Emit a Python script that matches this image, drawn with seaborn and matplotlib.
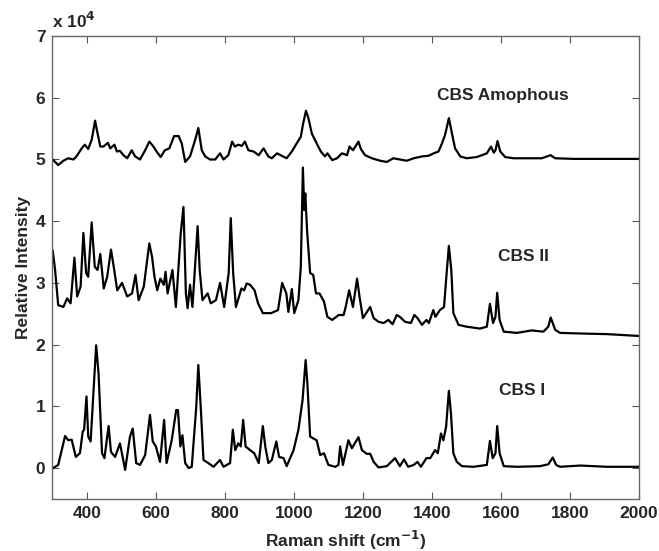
import numpy as np
import pandas as pd
import matplotlib
matplotlib.use("Agg")
import matplotlib.pyplot as plt
import seaborn as sns

# ---- data (Raman shift in cm^-1, intensity in counts) ----
cbs1_x = [301, 317, 337, 346, 356, 368, 380, 388, 392, 399, 404, 411, 427, 434, 444, 451,
          463, 470, 482, 496, 511, 525, 533, 543, 554, 569, 583, 591, 600, 612, 624, 631,
          646, 659, 664, 671, 677, 685, 695, 704, 717, 723, 730, 738, 752, 767, 786, 796,
          815, 823, 830, 839, 846, 853, 860, 873, 885, 898, 910, 917, 926, 936, 949, 957,
          970, 979, 999, 1013, 1025, 1034, 1039, 1047, 1056, 1066, 1076, 1087, 1100, 1120,
          1129, 1134, 1142, 1158, 1168, 1187, 1197, 1211, 1221, 1231, 1245, 1269, 1293,
          1307, 1319, 1331, 1347, 1358, 1368, 1384, 1395, 1409, 1417, 1426, 1433, 1441,
          1449, 1455, 1462, 1472, 1487, 1520, 1559, 1568, 1576, 1584, 1589, 1596, 1608,
          1646, 1713, 1737, 1750, 1760, 1771, 1830, 1907, 1998, 2000]
cbs1_y = [-50, 500, 5200, 4500, 4600, 1800, 2400, 5900, 6200, 11600, 5100, 4300, 19900,
          15300, 2400, 1600, 6800, 2600, 1800, 4000, -300, 5100, 6400, 800, 500, 2100, 8600,
          4300, 3500, 1000, 7800, 800, 4500, 9400, 9400, 3500, 5300, 800, 0, 200, 9900,
          16700, 9900, 1300, 800, 200, 1300, 200, 800, 6200, 2900, 4000, 3500, 7800, 3500,
          2900, 2400, 800, 6800, 3500, 800, 1300, 4300, 1800, 1600, 300, 2900, 6200, 11000,
          17500, 13700, 5100, 4800, 4500, 2100, 2400, 500, 200, 500, 3500, 500, 4500, 3200,
          5000, 2900, 2300, 2300, 1000, 100, 300, 1600, 300, 1400, 200, 500, 1000, 200, 1600,
          1600, 2900, 2400, 5600, 4500, 6700, 12500, 8900, 2400, 1000, 300, 200, 500, 4400,
          1600, 2400, 6800, 2400, 300, 200, 300, 600, 1700, 500, 200, 400, 200, 200, 200]

cbs2_x = [301, 308, 317, 332, 343, 353, 364, 372, 382, 390, 398, 404, 414, 423, 431, 439,
          449, 459, 470, 478, 488, 502, 517, 531, 541, 550, 565, 581, 589, 596, 604, 613,
          623, 628, 634, 648, 658, 672, 680, 687, 692, 699, 706, 713, 721, 727, 735, 750,
          759, 774, 786, 798, 811, 817, 824, 832, 848, 856, 863, 873, 886, 896, 910, 934,
          954, 966, 978, 984, 994, 1001, 1013, 1020, 1026, 1030, 1033, 1038, 1047, 1056,
          1064, 1074, 1087, 1097, 1111, 1130, 1144, 1150, 1160, 1171, 1183, 1190, 1200,
          1221, 1231, 1245, 1260, 1274, 1286, 1298, 1307, 1322, 1339, 1349, 1358, 1371,
          1384, 1391, 1404, 1410, 1423, 1435, 1441, 1449, 1456, 1462, 1477, 1501, 1539,
          1559, 1568, 1577, 1584, 1589, 1596, 1608, 1646, 1689, 1723, 1737, 1744, 1757,
          1771, 1830, 1907, 1998, 2000]
cbs2_y = [35300, 32100, 26400, 26100, 27500, 26700, 34100, 27800, 29400, 38100, 31600,
          31000, 39800, 32600, 32100, 34700, 29100, 31000, 35400, 32600, 28800, 30000,
          27800, 28300, 31300, 27200, 29400, 36400, 34200, 31000, 28800, 30700, 29700,
          31800, 28300, 32100, 26100, 38000, 42300, 28300, 25900, 29700, 26100, 32100,
          39200, 32100, 27200, 28300, 26700, 27200, 30000, 26100, 31600, 40500, 31600,
          26100, 29100, 28800, 29900, 29700, 28800, 26700, 25100, 25100, 25600, 30000,
          28300, 25300, 29000, 25100, 27200, 32600, 48700, 41800, 44500, 38600, 31600,
          31300, 28300, 28300, 27000, 24500, 24000, 24800, 24800, 26100, 28800, 26100,
          30700, 27800, 24300, 26100, 24300, 23700, 23500, 24000, 23300, 24800, 24500,
          23700, 23500, 24800, 24300, 23200, 24000, 23500, 25600, 24500, 25600, 26100,
          30500, 36000, 32100, 25100, 23200, 22900, 22600, 22900, 26600, 23500, 24500,
          28400, 24000, 22100, 21900, 22300, 22100, 22900, 24400, 22400, 21900, 21800,
          21700, 21400, 21400]

amor_x = [301, 317, 332, 346, 361, 370, 385, 394, 404, 414, 424, 429, 439, 448, 461, 468,
          480, 487, 496, 506, 517, 530, 540, 554, 569, 581, 593, 602, 614, 626, 639, 653,
          666, 675, 685, 699, 714, 723, 733, 743, 757, 772, 786, 796, 810, 821, 829, 839,
          849, 858, 868, 883, 898, 912, 926, 936, 951, 965, 979, 994, 1008, 1020, 1027,
          1035, 1042, 1052, 1066, 1078, 1090, 1097, 1111, 1125, 1139, 1154, 1161, 1171,
          1178, 1187, 1194, 1206, 1226, 1250, 1269, 1288, 1307, 1327, 1347, 1371, 1390,
          1405, 1419, 1429, 1438, 1449, 1458, 1467, 1482, 1501, 1530, 1559, 1571, 1579,
          1584, 1590, 1598, 1612, 1636, 1694, 1718, 1744, 1757, 1811, 1907, 1998, 2000]
amor_y = [50000, 49100, 49800, 50200, 50000, 50500, 51800, 52400, 51700, 53200, 56300,
          54800, 52100, 52100, 52700, 51800, 52400, 51300, 51400, 50700, 50200, 51500,
          50500, 50000, 51500, 52900, 52100, 51300, 50400, 51500, 51800, 53800, 53800,
          52600, 49600, 50500, 53200, 55100, 51500, 50500, 50000, 50000, 51000, 50000,
          50700, 52900, 52100, 52400, 52200, 52900, 51500, 51300, 50700, 51800, 50500,
          50200, 51000, 50600, 50200, 51300, 52600, 53700, 55900, 57900, 56700, 54200,
          52600, 51300, 50500, 51000, 49900, 50200, 51000, 50700, 52100, 51500, 52100,
          52900, 51700, 50700, 50200, 49800, 49600, 50200, 50000, 49800, 50200, 50500,
          50600, 51000, 51300, 52600, 54000, 56700, 54200, 51800, 50500, 50200, 50400,
          51000, 52100, 51100, 51500, 53000, 51300, 50400, 50200, 50200, 50200, 50700,
          50200, 50100, 50100, 50100, 50100]

labels = ["CBS I", "CBS II", "CBS Amophous"]
label_x = [1662, 1664, 1606]
label_y = [12500, 34200, 60300]

x_ticks = [400, 600, 800, 1000, 1200, 1400, 1600, 1800, 2000]
y_ticks = [0, 10000, 20000, 30000, 40000, 50000, 60000, 70000]
y_tick_labels = ["0", "1", "2", "3", "4", "5", "6", "7"]

# ---- styling ----
sns.set_theme(style="ticks")
plt.rcParams["font.family"] = ["Liberation Sans", "DejaVu Sans"]
plt.rcParams["font.weight"] = "bold"

fig = plt.figure(figsize=(6.59, 5.51), dpi=100)
ax = fig.add_axes([0.0794, 0.0946, 0.8903, 0.8399])

frames = []
for name, xs, ys in [("CBS I", cbs1_x, cbs1_y), ("CBS II", cbs2_x, cbs2_y),
                     ("CBS Amophous", amor_x, amor_y)]:
    frames.append(pd.DataFrame({"shift": xs, "intensity": ys, "sample": name}))
df = pd.concat(frames, ignore_index=True)

for name in labels:
    sub = df[df["sample"] == name]
    sns.lineplot(data=sub, x="shift", y="intensity", color="black", lw=1.6,
                 estimator=None, sort=False, ax=ax, legend=False)

ax.set_xlim(300, 2000)
ax.set_ylim(-5000, 70000)
ax.set_xticks(x_ticks)
ax.set_xticklabels([str(t) for t in x_ticks])
ax.set_yticks(y_ticks)
ax.set_yticklabels(y_tick_labels)

ax.tick_params(direction="in", top=True, right=True, length=5, width=0.8,
               color="#555555", labelsize=12.5, pad=5)
for lab in ax.get_xticklabels() + ax.get_yticklabels():
    lab.set_fontweight("bold")
for sp in ax.spines.values():
    sp.set_visible(True)
    sp.set_color("#666666")
    sp.set_linewidth(1.0)

ax.set_xlabel(r"Raman shift (cm$^{\mathbf{-1}}$)", fontsize=12.5, fontweight="bold", labelpad=6)
ax.set_ylabel("Relative Intensity", fontsize=12.5, fontweight="bold", labelpad=3)

for t, lx, ly in zip(labels, label_x, label_y):
    ax.text(lx, ly, t, ha="center", va="center", fontsize=12.5, fontweight="bold")

ax.text(0.0, 1.012, r"x 10$^{\mathbf{4}}$", transform=ax.transAxes, ha="left", va="bottom",
        fontsize=12.5, fontweight="bold")

fig.savefig("out.png", dpi=100)
